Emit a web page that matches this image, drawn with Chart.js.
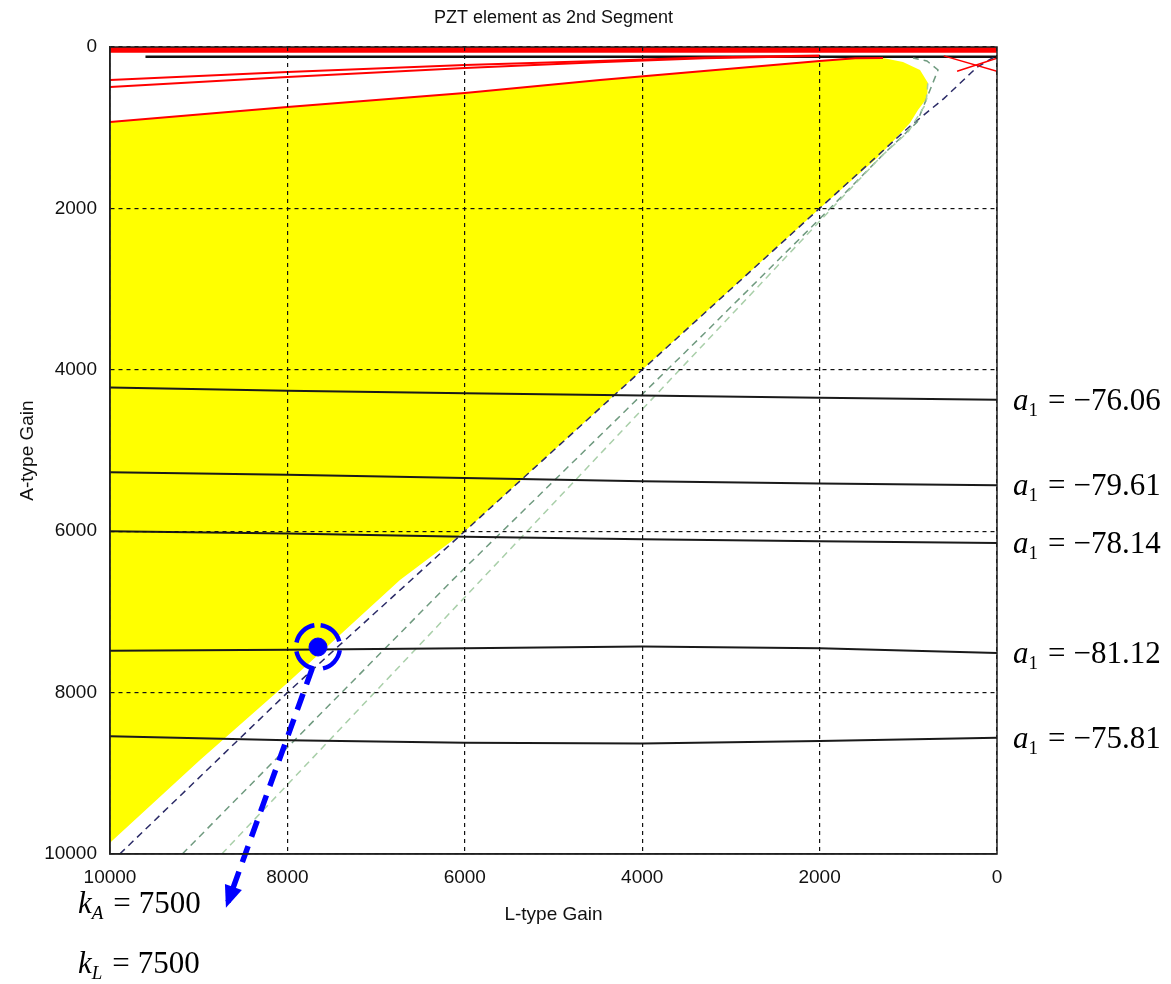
<!DOCTYPE html>
<html>
<head>
<meta charset="utf-8">
<title>PZT element as 2nd Segment</title>
<script src="https://cdn.jsdelivr.net/npm/chart.js@4.4.0/dist/chart.umd.min.js"></script>
<style>
  html, body { margin: 0; padding: 0; background: #fff; }
</style>
</head>
<body>
<canvas id="chart" width="1171" height="984"></canvas>
<script>
// Axis ticks (both axes run 0..10000, reversed)
const gainTicks = [0, 2000, 4000, 6000, 8000, 10000];

// Stable (yellow) region outline, L-type gain vs A-type gain
const regionL = [10000, 8000, 6000, 4476, 2000, 1600, 1285, 1060, 868, 778, 789, 891, 981, 1127, 1353, 2000, 4000, 6000, 6731, 8000, 8985, 10000, 10000];
const regionA = [929, 743, 570, 409, 173, 140, 136, 186, 285, 446, 632, 781, 942, 1115, 1375, 2000, 4000, 6000, 6605, 7880, 8835, 9860, 929];

// Red boundary curves near the top
const redLowL = [10000, 8000, 6000, 4476, 2000, 1600, 1285];
const redLowA = [929, 743, 570, 409, 173, 140, 136];
const redMidL = [10000, 8000, 6000, 4500, 3300, 2000];
const redMidA = [496, 372, 260, 190, 140, 110];
const redHighL = [10000, 8000, 6000, 4500, 3300, 2000];
const redHighA = [409, 310, 223, 175, 130, 105];
const redEdgeL = [10000, 0];
const redEdgeA = [35, 35];
const blackEdgeL = [9600, 0];
const blackEdgeA = [120, 120];
const redCross1L = [600, 0];
const redCross1A = [110, 300];
const redCross2L = [450, 0];
const redCross2A = [300, 140];

// Dashed boundary curves along the diagonal
const navyL = [9890, 8000, 6000, 4000, 2000, 1000, 600, 225, 40];
const navyA = [10000, 8000, 6000, 4000, 2000, 1000, 640, 250, 130];
const dkGreenL = [9185, 6133, 3300, 2000, 1300, 900, 755, 665, 790, 947];
const dkGreenA = [10000, 6600, 3550, 2130, 1350, 930, 533, 285, 173, 136];
const ltGreenL = [8740, 5795, 3200, 2000, 1300, 1000, 800, 780];
const ltGreenA = [10000, 6580, 3560, 2160, 1350, 1050, 700, 450];

// a1 contour lines
const contourL = [10000, 8000, 6000, 4000, 2000, 0];
const contourA = [
  [4220, 4260, 4290, 4320, 4345, 4370],
  [5270, 5300, 5340, 5380, 5410, 5430],
  [6000, 6030, 6070, 6100, 6125, 6146],
  [7480, 7470, 7450, 7430, 7450, 7510],
  [8540, 8590, 8620, 8630, 8600, 8560]
];
const contourLabels = ['\u221276.06', '\u221279.61', '\u221278.14', '\u221281.12', '\u221275.81'];

// Chosen design point and pointer
const designL = [7655];
const designA = [7435];
const arrowL = [7720, 8670];
const arrowA = [7700, 10595];
const gainLabels = [['k', 'A', '7500'], ['k', 'L', '7500']];

function pts(xs, ys) {
  return xs.map((x, i) => ({ x: x, y: ys[i] }));
}

function lineSet(xs, ys, color, width, dash, order) {
  return {
    data: pts(xs, ys),
    showLine: true,
    borderColor: color,
    borderWidth: width,
    borderDash: dash || [],
    pointRadius: 0,
    fill: false,
    order: order || 1
  };
}

const datasets = [];
datasets.push({
  data: pts(regionL, regionA),
  showLine: true,
  borderWidth: 0,
  borderColor: 'rgba(0,0,0,0)',
  backgroundColor: '#ffff00',
  pointRadius: 0,
  fill: 'shape',
  order: 10
});
datasets.push(lineSet(redEdgeL, redEdgeA, '#ff0000', 6, null, 5));
datasets.push(lineSet(blackEdgeL, blackEdgeA, '#111111', 2.5, null, 4));
datasets.push(lineSet(redLowL, redLowA, '#ff0000', 2, null, 3));
datasets.push(lineSet(redMidL, redMidA, '#ff0000', 2, null, 3));
datasets.push(lineSet(redHighL, redHighA, '#ff0000', 2, null, 3));
datasets.push(lineSet(redCross1L, redCross1A, '#ff0000', 1.5, null, 3));
datasets.push(lineSet(redCross2L, redCross2A, '#ff0000', 1.5, null, 3));
datasets.push(lineSet(ltGreenL, ltGreenA, '#a9cfa9', 1.5, [7, 5], 3));
datasets.push(lineSet(dkGreenL, dkGreenA, '#6f9a7f', 1.5, [7, 5], 3));
datasets.push(lineSet(navyL, navyA, '#2a2a66', 1.5, [7, 5], 3));
contourA.forEach(a => datasets.push(lineSet(contourL, a, '#1a1a1a', 2, null, 2)));

// pointer arrow (head drawn by plugin)
datasets.push({
  data: pts(arrowL, arrowA),
  showLine: true,
  borderColor: '#0000ff',
  borderWidth: 5.5,
  borderDash: [17, 10],
  pointRadius: 0,
  clip: false,
  order: 0
});
const arrowIndex = datasets.length - 1;
// design point
datasets.push({
  data: pts(designL, designA),
  showLine: false,
  pointRadius: 9,
  pointBackgroundColor: '#0000ff',
  pointBorderColor: '#0000ff',
  order: 0
});
const designIndex = datasets.length - 1;

// Draws box frame, arrow head, dashed ring round design point and the math labels
const annotatePlugin = {
  id: 'annotate',
  afterDraw(chart) {
    const ctx = chart.ctx;
    const area = chart.chartArea;
    const ys = chart.scales.y;
    ctx.save();
    ctx.strokeStyle = '#222';
    ctx.lineWidth = 1.5;
    ctx.strokeRect(area.left, area.top, area.right - area.left, area.bottom - area.top);

    // arrow head
    const arr = chart.getDatasetMeta(arrowIndex).data;
    const p0 = arr[0], p1 = arr[1];
    const ang = Math.atan2(p1.y - p0.y, p1.x - p0.x);
    ctx.fillStyle = '#0000ff';
    ctx.beginPath();
    ctx.moveTo(p1.x + Math.cos(ang) * 6, p1.y + Math.sin(ang) * 6);
    ctx.lineTo(p1.x - Math.cos(ang) * 16 - Math.sin(ang) * 9, p1.y - Math.sin(ang) * 16 + Math.cos(ang) * 9);
    ctx.lineTo(p1.x - Math.cos(ang) * 16 + Math.sin(ang) * 9, p1.y - Math.sin(ang) * 16 - Math.cos(ang) * 9);
    ctx.closePath();
    ctx.fill();

    // dashed ring
    const el = chart.getDatasetMeta(designIndex).data[0];
    ctx.beginPath();
    ctx.strokeStyle = '#0000ff';
    ctx.lineWidth = 4.5;
    ctx.setLineDash([26, 9]);
    ctx.arc(el.x, el.y, 22, -Math.PI / 2 + 0.12, 1.5 * Math.PI + 0.12);
    ctx.stroke();
    ctx.setLineDash([]);

    ctx.fillStyle = '#000';
    ctx.textBaseline = 'middle';
    ctx.textAlign = 'left';
    function mathLabel(x, y, main, sub, value) {
      ctx.font = 'italic 31px "Liberation Serif"';
      ctx.fillText(main, x, y);
      let cx = x + ctx.measureText(main).width;
      ctx.font = (sub === '1' ? '' : 'italic ') + '19px "Liberation Serif"';
      ctx.fillText(sub, cx, y + 9);
      cx += ctx.measureText(sub).width + 10;
      ctx.font = '31px "Liberation Serif"';
      ctx.fillText('=', cx, y);
      cx += ctx.measureText('=').width + 8;
      ctx.fillText(value, cx, y);
    }
    contourA.forEach((a, i) => {
      const y = ys.getPixelForValue(a[a.length - 1]);
      mathLabel(area.right + 16, y + 2, 'a', '1', contourLabels[i]);
    });
    mathLabel(78, 905, gainLabels[0][0], gainLabels[0][1], gainLabels[0][2]);
    mathLabel(78, 965, gainLabels[1][0], gainLabels[1][1], gainLabels[1][2]);
    ctx.restore();
  }
};

const tickFont = { family: '"Liberation Sans", Arial, sans-serif', size: 19 };

new Chart(document.getElementById('chart'), {
  type: 'scatter',
  data: { datasets: datasets },
  options: {
    responsive: false,
    animation: false,
    layout: { padding: { left: 12, right: 174, top: 0, bottom: 54 } },
    plugins: {
      legend: { display: false },
      tooltip: { enabled: false },
      title: {
        display: true,
        text: 'PZT element as 2nd Segment',
        fullSize: false,
        color: '#111',
        font: { family: '"Liberation Sans", Arial, sans-serif', size: 18, weight: 'normal' },
        padding: { top: 7, bottom: 18.4 }
      }
    },
    scales: {
      x: {
        type: 'linear',
        reverse: true,
        min: 0,
        max: 10000,
        afterBuildTicks: s => { s.ticks = gainTicks.map(v => ({ value: v })); },
        afterFit: s => { s.height = 76; },
        ticks: { color: '#111', font: tickFont, padding: 12, maxRotation: 0, callback: v => String(v) },
        grid: { color: '#111', lineWidth: 1.2, drawTicks: false, z: 1 },
        border: { display: true, color: '#222', width: 1.5, dash: [4, 4], z: 1 },
        title: { display: true, text: 'L-type Gain', color: '#111', font: tickFont }
      },
      y: {
        type: 'linear',
        reverse: true,
        min: 0,
        max: 10000,
        afterBuildTicks: s => { s.ticks = gainTicks.map(v => ({ value: v })); },
        afterFit: s => { s.width = 98; },
        ticks: { color: '#111', font: tickFont, padding: 13, callback: v => String(v) },
        grid: { color: '#111', lineWidth: 1.2, drawTicks: false, z: 1 },
        border: { display: true, color: '#222', width: 1.5, dash: [4, 4], z: 1 },
        title: { display: true, text: 'A-type Gain', color: '#111', font: tickFont }
      }
    }
  },
  plugins: [annotatePlugin]
});
</script>
</body>
</html>
